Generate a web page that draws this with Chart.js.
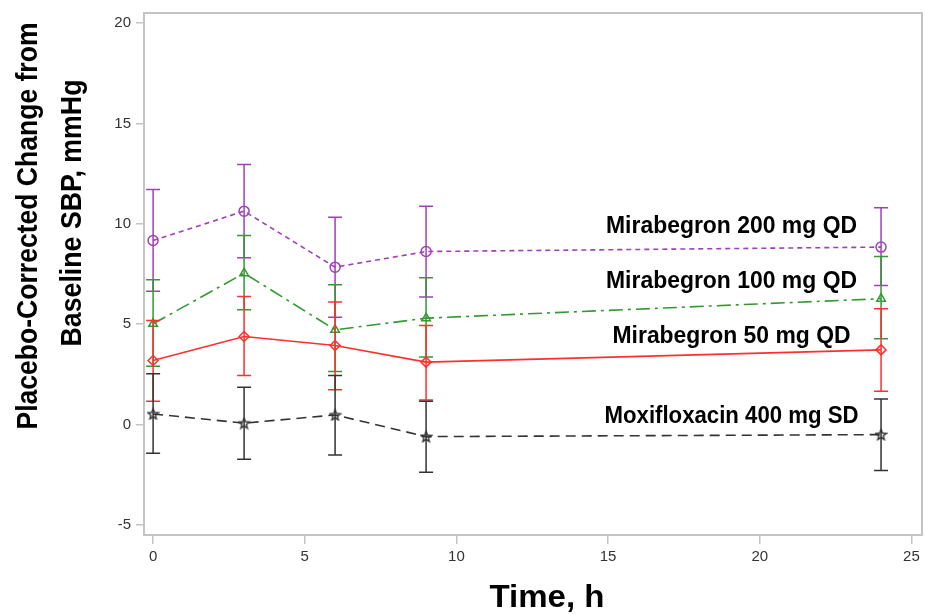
<!DOCTYPE html>
<html>
<head>
<meta charset="utf-8">
<script src="https://cdn.jsdelivr.net/npm/chart.js@4.4.1/dist/chart.umd.min.js"></script>
<style>
  body { margin: 0; background: #fff; }
</style>
</head>
<body>
<canvas id="sbpChart" width="925" height="615"></canvas>
<script>
// sampling times, h
const timePoints = [0, 3, 6, 9, 24];

// Mirabegron 200 mg QD
const mira200Mean = [9.17, 10.63, 7.84, 8.62, 8.84];
const mira200Lower = [6.64, 8.31, 5.35, 6.35, 6.93];
const mira200Upper = [11.71, 12.96, 10.33, 10.88, 10.80];

// Mirabegron 100 mg QD
const mira100Mean = [5.02, 7.54, 4.72, 5.30, 6.27];
const mira100Lower = [2.91, 5.72, 2.64, 3.36, 4.27];
const mira100Upper = [7.21, 9.42, 6.96, 7.31, 8.37];

// Mirabegron 50 mg QD
const mira50Mean = [3.19, 4.39, 3.94, 3.11, 3.72];
const mira50Lower = [1.16, 2.44, 1.73, 1.23, 1.66];
const mira50Upper = [5.18, 6.38, 6.10, 4.94, 5.77];

// Moxifloxacin 400 mg SD
const moxiMean = [0.53, 0.07, 0.48, -0.60, -0.50];
const moxiLower = [-1.43, -1.73, -1.51, -2.38, -2.29];
const moxiUpper = [2.53, 1.86, 2.44, 1.16, 1.28];

const seriesLabels = ["Mirabegron 200 mg QD", "Mirabegron 100 mg QD", "Mirabegron 50 mg QD", "Moxifloxacin 400 mg SD"];
const xTicks = [0, 5, 10, 15, 20, 25];
const yTicks = [-5, 0, 5, 10, 15, 20];

const purple = "#a040b8";
const green = "#339933";
const red = "#ff2f2f";
const dark = "#333333";
// no Arial Narrow here, so plain bold gets squeezed to width below
const boldFace = "'Liberation Sans', Arial, sans-serif";
const plotRight = 922;

// little 5-point star marker, chart.js 'star' is an asterisk
function makeStar(color) {
  const c = document.createElement("canvas");
  c.width = 13; c.height = 13;
  const g = c.getContext("2d");
  g.strokeStyle = color;
  g.lineWidth = 1.4;
  g.beginPath();
  for (let i = 0; i < 10; i++) {
    const r = i % 2 === 0 ? 5.5 : 2.4;
    const a = -Math.PI / 2 + i * Math.PI / 5;
    const px = 6.5 + r * Math.cos(a), py = 7 + r * Math.sin(a);
    if (i === 0) g.moveTo(px, py); else g.lineTo(px, py);
  }
  g.closePath();
  g.stroke();
  return c;
}

function toPoints(ys) {
  return timePoints.map((t, i) => ({ x: t, y: ys[i] }));
}

const errorRanges = [
  [mira200Lower, mira200Upper],
  [mira100Lower, mira100Upper],
  [mira50Lower, mira50Upper],
  [moxiLower, moxiUpper],
];

function drawFitted(ctx, text, x, y, font, targetWidth, angle, baseline) {
  ctx.save();
  ctx.translate(x, y);
  if (angle) ctx.rotate(angle);
  ctx.font = font;
  const w = ctx.measureText(text).width;
  ctx.scale(targetWidth / w, 1);
  ctx.textAlign = "center";
  ctx.textBaseline = baseline || "middle";
  ctx.fillStyle = "#000";
  ctx.fillText(text, 0, 0);
  ctx.restore();
}

// chart.js keeps ~7px spare on the right no matter the padding, so stretch it back
const stretchPlugin = {
  id: "stretchRight",
  afterLayout(chart) {
    const xs = chart.scales.x;
    xs.right = plotRight;
    xs.width = xs.right - xs.left;
    xs.configure();
    chart.chartArea.right = plotRight;
    chart.chartArea.width = plotRight - chart.chartArea.left;
  }
};

const errorBarPlugin = {
  id: "errorBars",
  afterDatasetsDraw(chart) {
    const ctx = chart.ctx;
    const yScale = chart.scales.y;
    chart.data.datasets.forEach((ds, di) => {
      const meta = chart.getDatasetMeta(di);
      const [lo, hi] = errorRanges[di];
      ctx.save();
      ctx.strokeStyle = ds.borderColor;
      ctx.lineWidth = 1.5;
      meta.data.forEach((pt, i) => {
        const yl = yScale.getPixelForValue(lo[i]);
        const yh = yScale.getPixelForValue(hi[i]);
        ctx.beginPath();
        ctx.moveTo(pt.x, yl); ctx.lineTo(pt.x, yh);
        ctx.moveTo(pt.x - 7, yl); ctx.lineTo(pt.x + 7, yl);
        ctx.moveTo(pt.x - 7, yh); ctx.lineTo(pt.x + 7, yh);
        ctx.stroke();
      });
      ctx.restore();
    });
  }
};

// label anchors in data units: x, baseline y, fitted width
const labelAnchors = [
  [19.07, 9.52, 251],
  [19.07, 6.78, 251],
  [19.07, 4.04, 238],
  [19.07, 0.10, 254],
];

const textPlugin = {
  id: "texts",
  afterDraw(chart) {
    const ctx = chart.ctx;
    const a = chart.chartArea;
    // frame
    ctx.save();
    ctx.strokeStyle = "#c4c4c4";
    ctx.lineWidth = 2;
    ctx.strokeRect(a.left, a.top, a.right - a.left, a.bottom - a.top);
    ctx.restore();

    const xs = chart.scales.x, ys = chart.scales.y;
    seriesLabels.forEach((txt, i) => {
      const [lx, ly, w] = labelAnchors[i];
      drawFitted(ctx, txt, xs.getPixelForValue(lx), ys.getPixelForValue(ly), "bold 23px " + boldFace, w, 0, "alphabetic");
    });

    drawFitted(ctx, "Placebo-Corrected Change from", 29, 226, "bold 30px " + boldFace, 407, -Math.PI / 2);
    drawFitted(ctx, "Baseline SBP, mmHg", 73, 213, "bold 30px " + boldFace, 267, -Math.PI / 2);
    drawFitted(ctx, "Time, h", 547, 598, "bold 32px " + boldFace, 115, 0);
  }
};

function noPad(scale) {
  scale.paddingLeft = 0;
  scale.paddingRight = 0;
  scale.paddingTop = 0;
  scale.paddingBottom = 0;
}

new Chart(document.getElementById("sbpChart").getContext("2d"), {
  type: "line",
  data: {
    datasets: [
      {
        label: seriesLabels[0],
        data: toPoints(mira200Mean),
        borderColor: purple,
        borderWidth: 1.6,
        borderDash: [5, 4],
        pointStyle: "circle",
        pointRadius: 5,
        pointBorderWidth: 1.5,
        pointBackgroundColor: "rgba(0,0,0,0)",
      },
      {
        label: seriesLabels[1],
        data: toPoints(mira100Mean),
        borderColor: green,
        borderWidth: 1.6,
        borderDash: [14, 5, 3, 5],
        pointStyle: "triangle",
        pointRadius: 5,
        pointBorderWidth: 1.5,
        pointBackgroundColor: "rgba(0,0,0,0)",
      },
      {
        label: seriesLabels[2],
        data: toPoints(mira50Mean),
        borderColor: red,
        borderWidth: 1.6,
        pointStyle: "rectRot",
        pointRadius: 5,
        pointBorderWidth: 1.5,
        pointBackgroundColor: "rgba(0,0,0,0)",
      },
      {
        label: seriesLabels[3],
        data: toPoints(moxiMean),
        borderColor: dark,
        borderWidth: 1.6,
        borderDash: [10, 6],
        pointStyle: makeStar(dark),
        pointRadius: 5,
        pointBackgroundColor: "rgba(0,0,0,0)",
      },
    ],
  },
  options: {
    responsive: false,
    animation: false,
    layout: { padding: { left: 84, right: 3, top: 13, bottom: 0 } },
    plugins: {
      legend: { display: false },
      tooltip: { enabled: false },
    },
    scales: {
      x: {
        type: "linear",
        min: -0.3,
        max: 25.35,
        afterBuildTicks: (scale) => { scale.ticks = xTicks.map((v) => ({ value: v })); },
        afterFit: (scale) => { scale.height = 80; noPad(scale); },
        grid: { drawOnChartArea: false, drawTicks: true, tickLength: 9, color: "#c4c4c4", lineWidth: 1.5 },
        border: { display: false },
        ticks: { color: "#333", font: { family: "Liberation Sans, Arial, sans-serif", size: 15 }, padding: 4 },
      },
      y: {
        type: "linear",
        min: -5.5,
        max: 20.5,
        afterBuildTicks: (scale) => { scale.ticks = yTicks.map((v) => ({ value: v })); },
        afterFit: (scale) => { scale.width = 60; noPad(scale); },
        grid: { drawOnChartArea: false, drawTicks: true, tickLength: 8, color: "#c4c4c4", lineWidth: 1.5 },
        border: { display: false },
        ticks: { color: "#333", font: { family: "Liberation Sans, Arial, sans-serif", size: 15 }, padding: 5 },
      },
    },
  },
  plugins: [stretchPlugin, errorBarPlugin, textPlugin],
});
</script>
</body>
</html>
